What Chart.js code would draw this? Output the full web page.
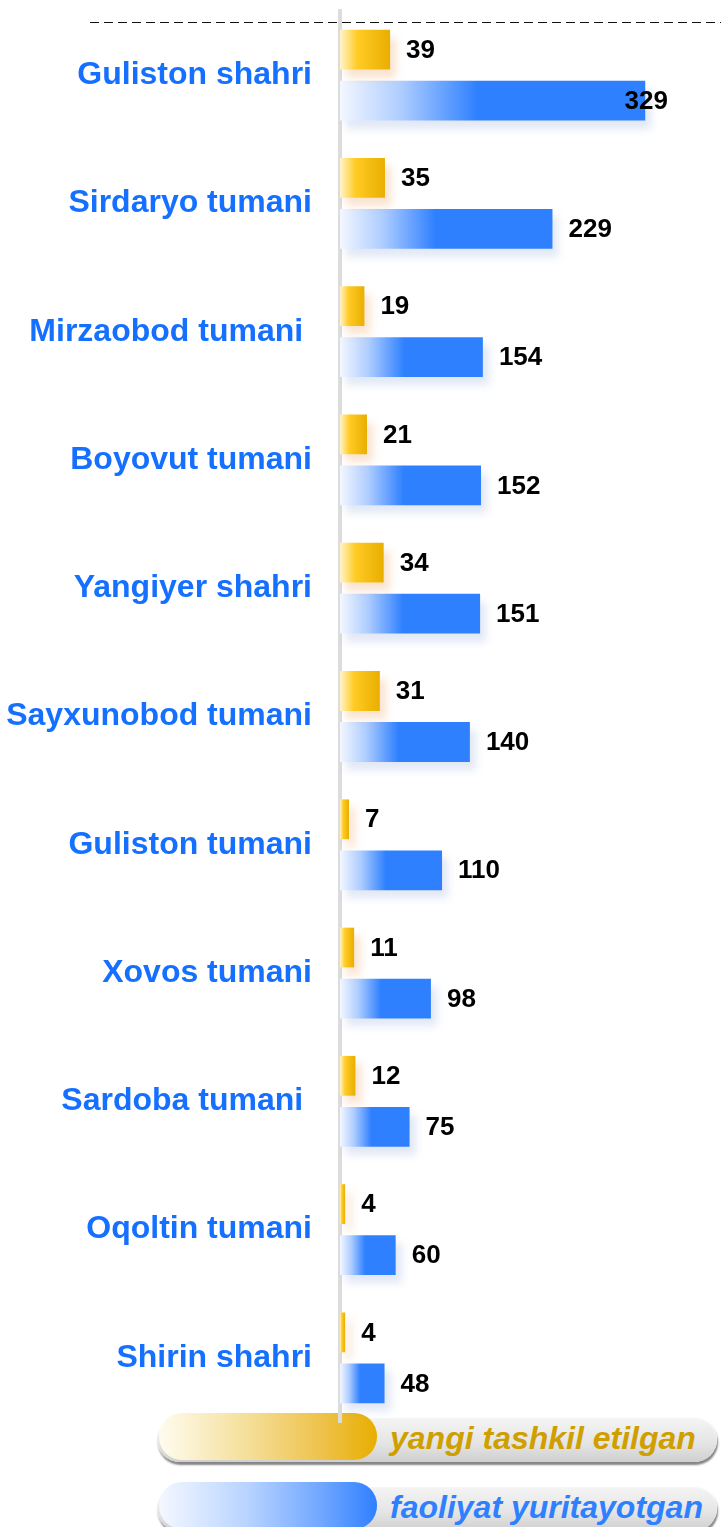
<!DOCTYPE html>
<html>
<head>
<meta charset="utf-8">
<script src="https://cdn.jsdelivr.net/npm/chart.js@4/dist/chart.umd.min.js"></script>
<style>
    body {
        margin: 0;
        background: #ffffff;
        font-family: Arial, "Liberation Sans", sans-serif;
    }
    .page {
        position: relative;
        width: 721px;
        height: 1527px;
        overflow: hidden;
    }
    #districtChart {
        position: absolute;
        left: 0;
        top: 0;
        z-index: 2;
    }
    .legend-item {
        position: absolute;
        left: 157px;
        width: 564px;
        height: 50px;
        z-index: 1;
    }
    .legend-track {
        position: absolute;
        left: 0;
        top: 4px;
        width: 560px;
        height: 45px;
        border-radius: 23px;
        background: linear-gradient(to bottom, #f5f5f5 0%, #e4e4e4 60%, #cfcfcf 100%);
        box-shadow: 1px 3px 2px #858585, inset 0 1px 1px #ffffff;
    }
    .legend-swatch {
        position: absolute;
        left: 2px;
        top: 0;
        width: 218px;
        height: 47px;
        border-radius: 23px;
    }
    .legend-swatch.yellow {
        background: linear-gradient(to right, #fffcf0 0%, #f5df9a 40%, #eec24a 75%, #e8ae00 100%);
    }
    .legend-swatch.blue {
        background: linear-gradient(to right, #f4f8ff 0%, #b9d4ff 40%, #6fa6ff 75%, #2f80ff 100%);
    }
    .legend-text {
        position: absolute;
        left: 233px;
        top: 5px;
        font: italic bold 32px Arial, "Liberation Sans", sans-serif;
        line-height: 40px;
        white-space: nowrap;
    }
    .legend-text.yellow { color: #cf9f00; }
    .legend-text.blue { color: #2f80ff; }
</style>
</head>
<body>
<div class="page">
    <canvas id="districtChart" width="721" height="1430"></canvas>

    <div class="legend-item" style="top: 1413px;">
        <div class="legend-track"></div>
        <div class="legend-swatch yellow"></div>
        <span class="legend-text yellow" id="legendNew"></span>
    </div>
    <div class="legend-item" style="top: 1482px;">
        <div class="legend-track"></div>
        <div class="legend-swatch blue"></div>
        <span class="legend-text blue" id="legendActive"></span>
    </div>
</div>

<script>
// Districts, top to bottom
const districts = [
    'Guliston shahri',
    'Sirdaryo tumani',
    'Mirzaobod tumani ',
    'Boyovut tumani',
    'Yangiyer shahri',
    'Sayxunobod tumani',
    'Guliston tumani',
    'Xovos tumani',
    'Sardoba tumani ',
    'Oqoltin tumani',
    'Shirin shahri'
];

// Newly established
const newlyEstablished = [39, 35, 19, 21, 34, 31, 7, 11, 12, 4, 4];

// Currently operating
const operating = [329, 229, 154, 152, 151, 140, 110, 98, 75, 60, 48];

const seriesNames = ['yangi tashkil etilgan', 'faoliyat yuritayotgan'];

document.getElementById('legendNew').textContent = seriesNames[0];
document.getElementById('legendActive').textContent = seriesNames[1];

const FONT = 'Arial, "Liberation Sans", sans-serif';

// Horizontal gradient running from the bar's base to its end
function barGradient(stops, axisId) {
    return function(context) {
        const chart = context.chart;
        const area = chart.chartArea;
        if (!area || !chart.scales[axisId]) return stops[stops.length - 1][1];
        const scale = chart.scales[axisId];
        const x0 = scale.getPixelForValue(0);
        let x1 = scale.getPixelForValue(context.raw);
        if (x1 - x0 < 1) x1 = x0 + 1;
        const g = chart.ctx.createLinearGradient(x0, 0, x1, 0);
        stops.forEach(s => g.addColorStop(s[0], s[1]));
        return g;
    };
}

const yellowStops = [[0, '#fff4cc'], [0.35, '#ffcb24'], [1, '#e9ae00']];
const blueStops = [[0, '#f3f7ff'], [0.2, '#aecdff'], [0.45, '#2f80ff'], [1, '#2f80ff']];

// Dashed rule above the first group
const topRule = {
    id: 'topRule',
    beforeDraw(chart) {
        const ctx = chart.ctx;
        ctx.save();
        ctx.strokeStyle = '#111111';
        ctx.lineWidth = 1;
        ctx.setLineDash([9, 5]);
        ctx.beginPath();
        ctx.moveTo(90, 22.5);
        ctx.lineTo(chart.width, 22.5);
        ctx.stroke();
        ctx.restore();
    }
};

// Soft shadow under the bars
const barShadow = {
    id: 'barShadow',
    beforeDatasetDraw(chart, args) {
        const ctx = chart.ctx;
        ctx.save();
        ctx.shadowColor = args.index === 0 ? 'rgba(235, 130, 40, 0.22)' : 'rgba(70, 110, 190, 0.16)';
        ctx.shadowBlur = 8;
        ctx.shadowOffsetX = 6;
        ctx.shadowOffsetY = 8;
    },
    afterDatasetDraw(chart) {
        chart.ctx.restore();
    }
};

// Value labels to the right of each bar
const valueLabels = {
    id: 'valueLabels',
    afterDatasetsDraw(chart) {
        const ctx = chart.ctx;
        const right = chart.chartArea.right - 6;
        ctx.save();
        ctx.font = 'bold 26px ' + FONT;
        ctx.fillStyle = '#000000';
        ctx.textBaseline = 'middle';
        ctx.textAlign = 'left';
        chart.data.datasets.forEach((ds, i) => {
            const meta = chart.getDatasetMeta(i);
            meta.data.forEach((bar, j) => {
                const text = String(ds.data[j]);
                const w = ctx.measureText(text).width;
                const x = Math.min(bar.x + 16, right - w);
                ctx.fillText(text, x, bar.y + 1);
            });
        });
        ctx.restore();
    }
};

const ctx = document.getElementById('districtChart').getContext('2d');
const chart = new Chart(ctx, {
    type: 'bar',
    data: {
        labels: districts,
        datasets: [{
            label: seriesNames[0],
            data: newlyEstablished,
            xAxisID: 'x2',
            backgroundColor: barGradient(yellowStops, 'x2'),
            borderWidth: 0
        }, {
            label: seriesNames[1],
            data: operating,
            xAxisID: 'x',
            backgroundColor: barGradient(blueStops, 'x'),
            borderWidth: 0
        }]
    },
    options: {
        indexAxis: 'y',
        responsive: false,
        animation: false,
        categoryPercentage: 0.795,
        barPercentage: 0.78,
        layout: {
            padding: { top: 11, bottom: 8, left: 0, right: 47 }
        },
        plugins: {
            legend: { display: false },
            tooltip: { enabled: false }
        },
        scales: {
            x: {
                display: false,
                min: 0,
                max: 360
            },
            x2: {
                display: false,
                min: 0,
                max: 260
            },
            y: {
                z: 1,
                afterFit: function(scale) {
                    // fixed label column; no extra vertical padding from the big tick font
                    scale.width = 340;
                    scale.paddingTop = 0;
                    scale.paddingBottom = 0;
                },
                grid: {
                    display: false,
                    drawTicks: false
                },
                border: {
                    display: true,
                    color: '#dcdcdc',
                    width: 4
                },
                ticks: {
                    padding: 28,
                    color: '#1670ff',
                    font: {
                        family: FONT,
                        size: 32,
                        weight: 'bold'
                    }
                }
            }
        }
    },
    plugins: [topRule, barShadow, valueLabels]
});
</script>
</body>
</html>
